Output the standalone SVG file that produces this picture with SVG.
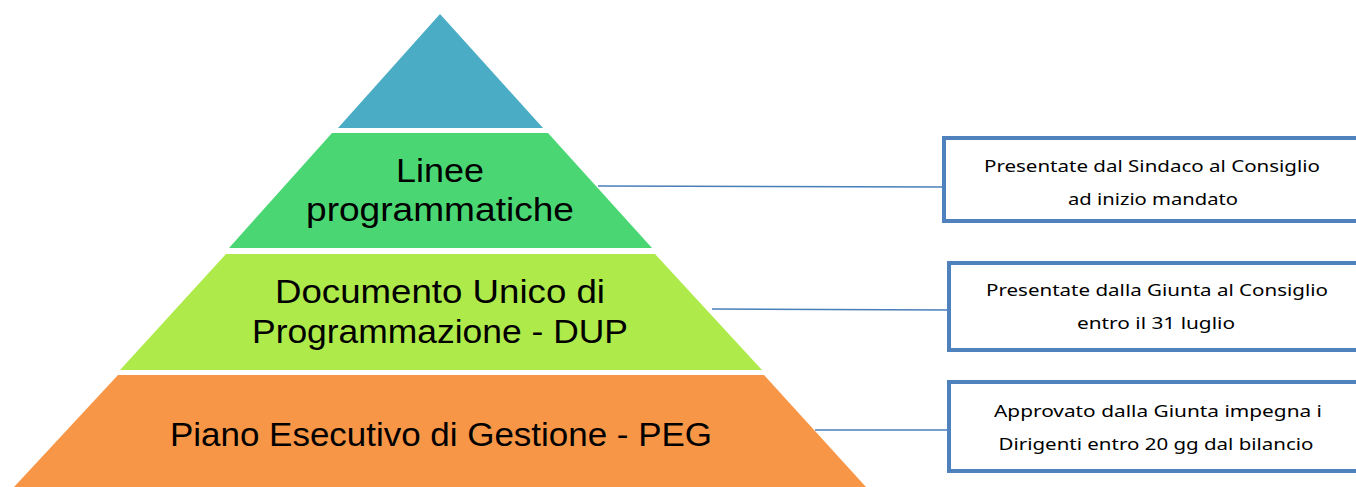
<svg xmlns="http://www.w3.org/2000/svg" width="1356" height="487" viewBox="0 0 1356 487">
<style>
.pt{font-family:"Liberation Sans",Arial,sans-serif;font-size:34px;fill:#000;text-anchor:middle}
.bt{font-family:"Noto Sans","Liberation Sans",sans-serif;font-size:17px;fill:#000;text-anchor:middle}
.box{fill:#fff;stroke:#4F81BD;stroke-width:4}
.con{stroke:#4A7EBB;stroke-width:1.5;fill:none}
</style>
<rect width="1356" height="487" fill="#fff"/>
<g id="connectors">
<line class="con" x1="598" y1="186" x2="944" y2="187"/>
<line class="con" x1="712" y1="309" x2="949" y2="310"/>
<line class="con" x1="815" y1="430" x2="949" y2="430"/>
</g>
<g id="apex"><polygon points="440,14 543,128 338,128" fill="#4BACC6"/></g>
<g id="linee">
<polygon points="332,133 548,133 652,248 229,248" fill="#4AD773"/>
<text class="pt" x="440" y="182" textLength="88" lengthAdjust="spacingAndGlyphs">Linee</text>
<text class="pt" x="440" y="221" textLength="268" lengthAdjust="spacingAndGlyphs">programmatiche</text>
</g>
<g id="dup">
<polygon points="226,254 655,254 762,370 120,370" fill="#ADEA4A"/>
<text class="pt" x="440" y="303" textLength="330" lengthAdjust="spacingAndGlyphs">Documento Unico di</text>
<text class="pt" x="440" y="343" textLength="376" lengthAdjust="spacingAndGlyphs">Programmazione - DUP</text>
</g>
<g id="peg">
<polygon points="118,375 764,375 866,487 14,487" fill="#F79646"/>
<text class="pt" x="441" y="446" textLength="542" lengthAdjust="spacingAndGlyphs">Piano Esecutivo di Gestione - PEG</text>
</g>
<g id="box1">
<rect class="box" x="944" y="138" width="420" height="83"/>
<text class="bt" x="1152" y="172" textLength="336" lengthAdjust="spacingAndGlyphs">Presentate dal Sindaco al Consiglio</text>
<text class="bt" x="1153" y="205" textLength="170" lengthAdjust="spacingAndGlyphs">ad inizio mandato</text>
</g>
<g id="box2">
<rect class="box" x="949" y="263" width="420" height="87"/>
<text class="bt" x="1157" y="296" textLength="342" lengthAdjust="spacingAndGlyphs">Presentate dalla Giunta al Consiglio</text>
<text class="bt" x="1156" y="329" textLength="158" lengthAdjust="spacingAndGlyphs">entro il 31 luglio</text>
</g>
<g id="box3">
<rect class="box" x="949" y="382" width="420" height="89"/>
<text class="bt" x="1158" y="417" textLength="328" lengthAdjust="spacingAndGlyphs">Approvato dalla Giunta impegna i</text>
<text class="bt" x="1156" y="450" textLength="315" lengthAdjust="spacingAndGlyphs">Dirigenti entro 20 gg dal bilancio</text>
</g>
</svg>
